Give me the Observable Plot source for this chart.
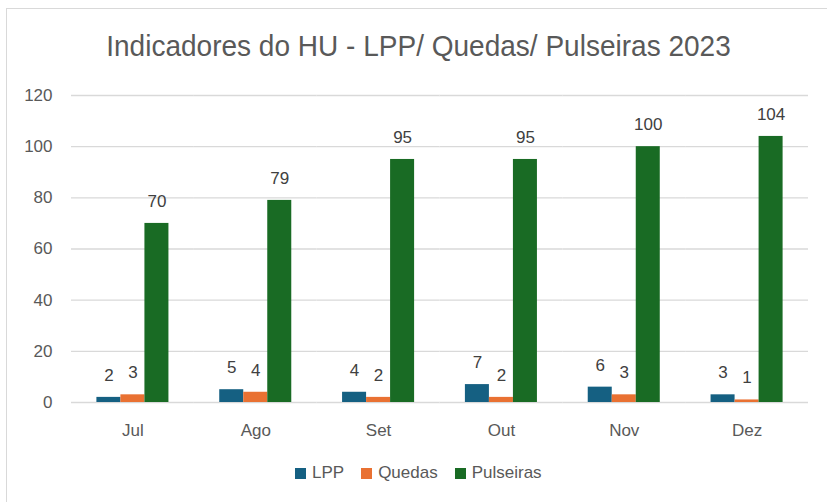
<!DOCTYPE html>
<html>
<head>
<meta charset="utf-8">
<script src="https://cdn.jsdelivr.net/npm/d3@7"></script>
<script src="https://cdn.jsdelivr.net/npm/@observablehq/plot@0.6"></script>
<style>
  html, body { margin: 0; padding: 0; background: #fff; }
  #wrap { position: relative; width: 827px; height: 502px; overflow: hidden; font-family: "Liberation Sans", Arial, sans-serif; color: #595959; }
  #frame { position: absolute; left: 6px; top: 8px; width: 830px; height: 510px; border-left: 1px solid #d9d9d9; border-top: 1px solid #d9d9d9; box-sizing: border-box; }
  #title { position: absolute; left: 0; width: 837px; top: 31px; line-height: 30px; text-align: center; font-family: "Liberation Sans", sans-serif; font-size: 30px; color: #595959; white-space: nowrap; transform: scaleX(0.934); transform-origin: 418.5px 0; }
  #chart { position: absolute; left: 0; top: 0; }
  #legend { position: absolute; left: 295px; top: 463px; display: flex; align-items: center; font-size: 17px; color: #595959; white-space: nowrap; }
  .item { display: flex; align-items: center; margin-right: 17px; }
  .sw { width: 11px; height: 11px; margin-right: 6px; }
</style>
</head>
<body>
<div id="wrap">
  <div id="frame"></div>
  <div id="chart"></div>
  <div id="title">Indicadores do HU - LPP/ Quedas/ Pulseiras 2023</div>
  <div id="legend"></div>
</div>
<script>
const months = ["Jul", "Ago", "Set", "Out", "Nov", "Dez"];
const seriesNames = ["LPP", "Quedas", "Pulseiras"];
const lpp = [2, 5, 4, 7, 6, 3];
const quedas = [3, 4, 2, 2, 3, 1];
const pulseiras = [70, 79, 95, 95, 100, 104];
const colors = ["#156082", "#E97132", "#196B24"];
const yTicks = [0, 20, 40, 60, 80, 100, 120];

const seriesValues = [lpp, quedas, pulseiras];
const data = [];
months.forEach((m, i) => {
  seriesNames.forEach((s, j) => data.push({ month: m, series: s, value: seriesValues[j][i] }));
});

const chart = Plot.plot({
  width: 827,
  height: 502,
  marginLeft: 71,
  marginRight: 19,
  marginTop: 95,
  marginBottom: 100,
  style: { fontFamily: "Liberation Sans, Arial, sans-serif", fontSize: "17px", color: "#595959", background: "transparent" },
  fx: { domain: months, padding: 0, round: false, label: null },
  x: { domain: seriesNames, paddingInner: 0, paddingOuter: 1.058, round: false, axis: null },
  y: { domain: [0, 120], ticks: yTicks, label: null },
  color: { domain: seriesNames, range: colors },
  marks: [
    Plot.gridY(yTicks, { stroke: "#d9d9d9", strokeOpacity: 1, strokeWidth: 1.3 }),
    Plot.barY(data, { fx: "month", x: "series", y: "value", fill: "series", inset: 0 }),
    Plot.text(data, { fx: "month", x: "series", y: "value", text: d => String(d.value), dy: -22, fill: "#404040", fontSize: 17 }),
    Plot.axisY(yTicks, { tickSize: 0, tickPadding: 19, fontSize: 17, fill: "#595959", label: null }),
    Plot.axisFx({ anchor: "bottom", tickSize: 0, tickPadding: 21, fontSize: 17, fill: "#595959", label: null })
  ]
});
document.getElementById("chart").appendChild(chart);

const legend = document.getElementById("legend");
seriesNames.forEach((s, i) => {
  const item = document.createElement("div");
  item.className = "item";
  const sw = document.createElement("div");
  sw.className = "sw";
  sw.style.background = colors[i];
  const t = document.createElement("span");
  t.textContent = s;
  item.appendChild(sw);
  item.appendChild(t);
  legend.appendChild(item);
});
</script>
</body>
</html>
